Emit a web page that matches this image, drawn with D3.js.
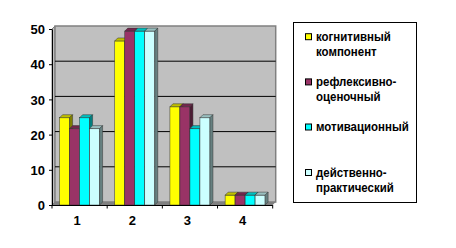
<!DOCTYPE html>
<html><head><meta charset="utf-8">
<script src="https://cdn.jsdelivr.net/npm/d3@7"></script>
<style>
html,body{margin:0;padding:0;background:#fff;}
svg{display:block;}
text{font-family:"Liberation Sans",Arial,sans-serif;font-weight:bold;}
</style></head>
<body>
<svg id="c" width="456" height="248"></svg>
<script>
// ---- data ----
const categories = ["1", "2", "3", "4"];
const seriesNames = ["когнитивный компонент", "рефлексивно-оценочный", "мотивационный", "действенно-практический"];
const legendLines = [["когнитивный", "компонент"], ["рефлексивно-", "оценочный"], ["мотивационный"], ["действенно-", "практический"]];
const cognitive  = [24.8, 46.6, 27.9, 2.8];
const reflexive  = [21.7, 49.4, 27.9, 2.8];
const motivation = [24.8, 49.4, 21.7, 2.8];
const practical  = [21.7, 49.4, 24.8, 2.8];
const seriesValues = [cognitive, reflexive, motivation, practical];
const yTicks = [0, 10, 20, 30, 40, 50];
const colors = ["#FFFF00", "#993366", "#00FFFF", "#CCFFFF"];

// ---- geometry ----
const svg = d3.select("#c");
const X0 = 52, X1 = 272.7, D = 3;
const y = d3.scaleLinear().domain([0, 50]).range([205, 29]);
const x = d3.scaleBand().domain(categories).range([X0, X1]).paddingInner(0.275).paddingOuter(0.1375);
const xs = d3.scaleBand().domain(d3.range(seriesNames.length)).range([0, x.bandwidth()]);

const shade = (c, k) => { const r = d3.rgb(c); return d3.rgb(r.r * k, r.g * k, r.b * k).toString(); };
const poly = pts => pts.map(p => p.join(",")).join(" ");

const yb = y(0), yt = y(50);
// side wall
svg.append("polygon").attr("points", poly([[X0, yt], [X0 + D, yt - D], [X0 + D, yb - D], [X0, yb]]))
  .attr("fill", "#C0C0C0").attr("stroke", "#808080").attr("stroke-width", 1);
// back wall
svg.append("rect").attr("x", X0 + D).attr("y", yt - D).attr("width", X1 - X0).attr("height", yb - yt)
  .attr("fill", "#C0C0C0").attr("stroke", "#808080").attr("stroke-width", 1.5);
// gridlines on back wall
svg.append("g").selectAll("line").data(yTicks.filter(v => v > 0 && v < 50)).join("line")
  .attr("x1", X0 + D).attr("x2", X1 + D).attr("y1", v => y(v) - D).attr("y2", v => y(v) - D)
  .attr("stroke", "#000").attr("stroke-width", 1);
// floor
svg.append("polygon").attr("points", poly([[X0, yb], [X0 + D, yb - D], [X1 + D, yb - D], [X1, yb]]))
  .attr("fill", "#808080");

// bars
const bw = xs.bandwidth();
categories.forEach((cat, ci) => {
  const g = svg.append("g");
  seriesValues.forEach((vals, si) => {
    const bx = x(cat) + xs(si), top = y(vals[ci]), c = colors[si];
    g.append("rect").attr("x", bx).attr("y", top).attr("width", bw).attr("height", yb - top)
      .attr("fill", c).attr("stroke", "#333").attr("stroke-width", 0.5);
    g.append("polygon").attr("points", poly([[bx, top], [bx + D, top - D], [bx + bw + D, top - D], [bx + bw, top]]))
      .attr("fill", shade(c, 0.75)).attr("stroke", "#333").attr("stroke-width", 0.5);
    g.append("polygon").attr("points", poly([[bx + bw, top], [bx + bw + D, top - D], [bx + bw + D, yb - D], [bx + bw, yb]]))
      .attr("fill", shade(c, 0.5)).attr("stroke", "#333").attr("stroke-width", 0.5);
  });
});

// y axis
const yAxis = svg.append("g").attr("transform", `translate(${X0},0)`)
  .call(d3.axisLeft(y).tickValues(yTicks).tickSize(3).tickSizeOuter(0).tickPadding(4));
yAxis.select(".domain").attr("stroke", "#000");
yAxis.selectAll("text").style("font-size", "13px").attr("fill", "#000").attr("dy", "0.36em");

// x axis (ticks at category boundaries)
const step = x.step();
const boundaries = d3.range(categories.length + 1).map(i => X0 + i * step);
svg.append("line").attr("x1", X0).attr("x2", X1).attr("y1", yb + 0.5).attr("y2", yb + 0.5).attr("stroke", "#000");
svg.append("g").selectAll("line").data(boundaries).join("line")
  .attr("x1", d => d).attr("x2", d => d).attr("y1", yb).attr("y2", yb + 3.5).attr("stroke", "#000");
svg.append("g").selectAll("text").data(categories).join("text")
  .attr("x", d => x(d) + x.bandwidth() / 2 - 2.5).attr("y", 224.5)
  .attr("text-anchor", "middle").style("font-size", "13px").text(d => d);

// legend
const lg = svg.append("g");
lg.append("rect").attr("x", 293.5).attr("y", 22.5).attr("width", 123).attr("height", 180)
  .attr("fill", "#fff").attr("stroke", "#000").attr("stroke-width", 1);
const entryBase = [40.7, 85.9, 131, 176.5];
legendLines.forEach((lines, i) => {
  const b = entryBase[i];
  lg.append("rect").attr("x", 305.5).attr("y", b - 7).attr("width", 6).attr("height", 6)
    .attr("fill", colors[i]).attr("stroke", "#000").attr("stroke-width", 1);
  lines.forEach((t, j) => {
    lg.append("text").attr("transform", `translate(316,${b + j * 15.3}) scale(0.85,1)`)
      .style("font-size", "13.5px").text(t);
  });
});
</script>
</body></html>
